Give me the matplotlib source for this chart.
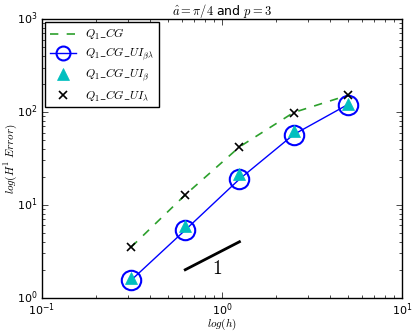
import numpy as np
import matplotlib
matplotlib.use('Agg')
import matplotlib.pyplot as plt

plt.style.use('classic')

h = [0.3125, 0.625, 1.25, 2.5, 5.0]
err_cg = [3.5, 12.8, 42.0, 98.5, 151.0]
err_ui_bl = [1.54, 5.35, 18.9, 57.0, 120.0]
err_ui_b = [1.64, 5.94, 21.4, 62.5, 123.0]
err_ui_l = [3.5, 12.8, 42.0, 98.5, 151.0]

# slope triangle reference line
slope_x = [0.625, 1.25]
slope_y = [2.0, 4.0]

fig = plt.figure(figsize=(4.16, 3.32), dpi=100, facecolor='white')
ax = fig.add_axes([42/416, 1 - 297.7/332, 360/416, 278.7/332])

ax.plot(h, err_cg, '--', color='#2ca02c', lw=1.2, label=r'$Q_1\_CG$')
ax.plot(h, err_ui_bl, '-o', color='b', lw=1, markersize=14,
        markerfacecolor='none', markeredgecolor='b', markeredgewidth=1.5,
        label=r'$Q_1\_CG\_UI_{\beta\lambda}$')
ax.plot(h, err_ui_b, '^', color='c', markersize=8, markeredgecolor='c',
        linestyle='none', label=r'$Q_1\_CG\_UI_{\beta}$')
ax.plot(h, err_ui_l, 'x', color='k', markersize=6, markeredgewidth=1.2,
        linestyle='none', label=r'$Q_1\_CG\_UI_{\lambda}$')

ax.plot(slope_x, slope_y, 'k-', lw=2)
ax.text(0.94, 2.07, r'$1$', fontsize=14, ha='center', va='center')

ax.set_xscale('log')
ax.set_yscale('log')
ax.set_xlim(0.1, 10)
ax.set_ylim(1, 1000)

ax.tick_params(labelsize=8, pad=3)
ax.set_xlabel(r'$log(h)$', fontsize=8, labelpad=-1)
ax.set_ylabel(r'$log(H^1\ Error)$', fontsize=8, labelpad=-1)
ax.set_title(r'$\hat{a}=\pi/4$ and $p=3$', fontsize=9, pad=3)

leg = ax.legend(loc='upper left', numpoints=1, fontsize=8.5,
                handlelength=2.2, borderaxespad=0.25, labelspacing=0.35)
# smaller circle in the legend only
leg.legend_handles[1].set_markersize(10)

fig.savefig('out.png', dpi=100, facecolor='white')
